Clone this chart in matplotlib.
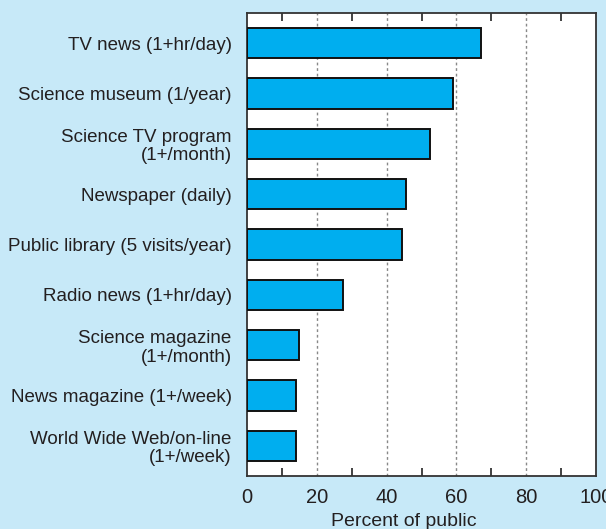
import matplotlib
matplotlib.use("Agg")
import matplotlib.pyplot as plt
from matplotlib.ticker import FixedLocator

categories = [
    "TV news (1+hr/day)",
    "Science museum (1/year)",
    "Science TV program\n(1+/month)",
    "Newspaper (daily)",
    "Public library (5 visits/year)",
    "Radio news (1+hr/day)",
    "Science magazine\n(1+/month)",
    "News magazine (1+/week)",
    "World Wide Web/on-line\n(1+/week)",
]
values = [67, 59, 52.5, 45.5, 44.5, 27.5, 15, 14, 14]
x_ticks = [0, 20, 40, 60, 80, 100]
x_label = "Percent of public"

plt.rcParams['font.family'] = ['Liberation Sans', 'DejaVu Sans']

bg = "#c7e9f8"
bar_color = "#00aeef"
text_color = "#231f20"

fig = plt.figure(figsize=(6.06, 5.29), dpi=100, facecolor=bg)
ax = fig.add_axes([0.4076, 0.1002, 0.5759, 0.8752])
ax.set_facecolor("white")

ypos = list(range(len(categories)))
ax.barh(ypos, values, height=0.6, color=bar_color, edgecolor="#111111", linewidth=1.4, zorder=3)

ax.set_xlim(0, 100)
ax.set_ylim(len(categories) - 0.4, -0.6)
ax.set_yticks(ypos)
ax.set_yticklabels(categories, fontsize=13.5, color=text_color, linespacing=1.12, ha="right")
ax.tick_params(axis="y", length=0, pad=11)

ax.set_xticks(x_ticks)
ax.set_xticklabels([str(t) for t in x_ticks], fontsize=14.5, color=text_color)
ax.xaxis.set_minor_locator(FixedLocator([10, 30, 50, 70, 90]))
ax.tick_params(axis="x", which="major", length=0, pad=9)
ax.tick_params(axis="x", which="minor", direction="in", length=6, width=1.2,
               top=True, bottom=True, color="#222222")

for g in x_ticks[1:-1]:
    ax.axvline(g, color="#888888", linestyle=(0, (2, 2)), linewidth=1.0, zorder=1)

for s in ax.spines.values():
    s.set_color("#333333")
    s.set_linewidth(1.3)

ax.set_xlabel(x_label, fontsize=14, color=text_color)
ax.xaxis.set_label_coords((404 - 247) / 349, -0.08)
ax.xaxis.label.set_va("top")

fig.savefig("out.png", dpi=100, facecolor=bg)
